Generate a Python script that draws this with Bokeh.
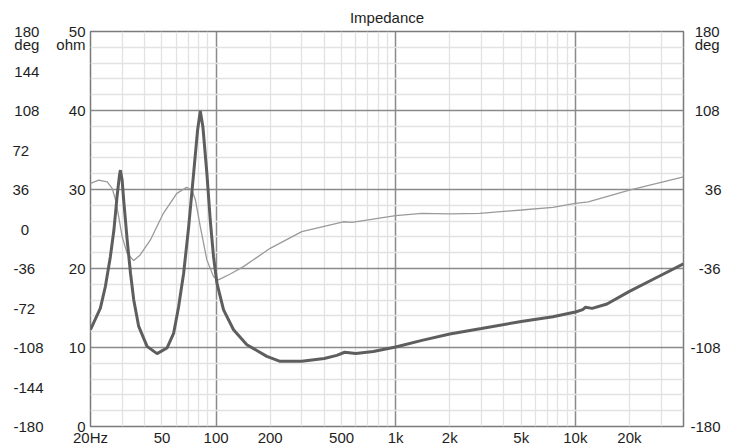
from bokeh.plotting import figure
from bokeh.models import Range1d, LinearAxis, FixedTicker
from bokeh.embed import file_html
from bokeh.resources import INLINE

# ---- data ----
imp_freq = [20.0, 22.7, 24.2, 25.8, 27.0, 28.1, 29.0, 29.35, 30.0, 30.6, 32.0, 33.4, 34.8,
            37.1, 41.3, 46.9, 53.3, 58.1, 61.9, 66.0, 70.4, 75.0, 78.9, 81.7, 84.5, 88.9,
            92.8, 96.8, 101.1, 110.1, 125.1, 148.4, 191.7, 227.2, 300, 400, 470, 520, 600,
            750, 1000, 1400, 2000, 3000, 5000, 7500, 10000, 11000, 11400, 12400, 15000,
            20000, 28000, 40000]
imp_ohm = [12.25, 14.98, 17.72, 21.5, 24.87, 29.08, 31.82, 32.45, 31.19, 28.66, 23.61, 19.4,
           16.04, 12.67, 10.14, 9.22, 9.93, 11.83, 15.19, 19.4, 25.29, 32.03, 37.5, 39.94,
           37.9, 32.03, 26.14, 21.5, 18.14, 14.77, 12.25, 10.35, 8.88, 8.25, 8.25, 8.6, 9.0,
           9.4, 9.25, 9.5, 10.06, 10.9, 11.7, 12.4, 13.3, 13.9, 14.5, 14.8, 15.1, 14.95, 15.5,
           17.1, 18.8, 20.6]

ph_freq = [20.0, 22.2, 24.8, 26.4, 27.6, 28.7, 30.0, 32.0, 34.8, 37.8, 43.1, 50.9, 60.5,
           68.5, 73.3, 76.8, 81.7, 88.9, 96.8, 103, 120, 142, 200, 300, 511, 570, 1000,
           1400, 2000, 2930, 5000, 7500, 10000, 11800, 20000, 40000]
ph_deg = [41.5, 44.5, 43.0, 37.0, 26.4, 11.2, -7.0, -22.1, -28.8, -23.6, -10.0, 14.3, 32.5,
          37.9, 35.5, 26.4, 2.1, -28.2, -43.4, -46.4, -41.0, -34.3, -17.6, -2.4, 6.6, 6.1,
          12.1, 14.3, 13.8, 14.3, 17.3, 19.7, 23.3, 24.8, 35.5, 47.5]

x_ticks = [20, 50, 100, 200, 500, 1000, 2000, 5000, 10000, 20000]
x_labels = ["20Hz", "50", "100", "200", "500", "1k", "2k", "5k", "10k", "20k"]
ohm_ticks = [0, 10, 20, 30, 40, 50]
deg_left_ticks = [-180, -144, -108, -72, -36, 0, 36, 72, 108, 144, 180]
deg_left_labels = ["-180", "-144", "-108", "-72", "-36", "0", "36", "72", "108", "144", "180"]
deg_right_ticks = [-180, -108, -36, 36, 108, 180]
deg_right_labels = ["-180", "-108", "-36", "36", "108", "180"]
x_major_grid = [100, 1000, 10000]
x_minor_grid = [30, 40, 50, 60, 70, 80, 90, 200, 300, 400, 500, 600, 700, 800, 900,
                2000, 3000, 4000, 5000, 6000, 7000, 8000, 9000, 20000, 30000]
y_minor_grid = [2, 4, 6, 8, 12, 14, 16, 18, 22, 24, 26, 28, 32, 34, 36, 38, 42, 44, 46, 48]
ohm_unit, deg_unit = "ohm", "deg"

FONT = "Liberation Sans"
TXT = "#1e1e1e"
FS = 15
NBSP_W, THIN_W = 0.278 * FS, 0.2 * FS


def text_w(s):
    w = 0.0
    for ch in s:
        if ch.isdigit() or ch in "deg":
            w += 0.556
        elif ch == "-":
            w += 0.333
        else:
            w += 0.5
    return w * FS


def pad(s, target, leading):
    # pad with non-collapsing spaces so that right/left aligned axis labels look centred
    extra = target - text_w(s)
    best, best_err = "", abs(extra)
    for n in range(3):
        for t in range(3):
            e = abs(extra - (n * NBSP_W + t * THIN_W))
            if e < best_err:
                best, best_err = "\u00a0" * n + "\u2009" * t, e
    return best + s if leading else s + best


p = figure(width=734, height=448, x_axis_type="log",
           x_range=Range1d(20, 40000), y_range=Range1d(0, 50),
           output_backend="svg", toolbar_location=None,
           min_border_left=90, min_border_right=51, min_border_top=31, min_border_bottom=21)
p.extra_y_ranges = {"deg": Range1d(-180, 180)}

p.background_fill_color = "white"
p.border_fill_color = "white"
p.outline_line_color = "#7a7a7a"
p.outline_line_width = 1.5

p.title.text = "Impedance"
p.title.align = "center"
p.title.text_font = FONT
p.title.text_font_size = "15px"
p.title.text_font_style = "normal"
p.title.text_color = TXT
p.title.standoff = 12

# grids
p.xgrid.ticker = FixedTicker(ticks=x_major_grid, minor_ticks=x_minor_grid)
p.ygrid.ticker = FixedTicker(ticks=ohm_ticks, minor_ticks=y_minor_grid)
for g in (p.xgrid, p.ygrid):
    g.grid_line_color = "#8a8a8a"
    g.grid_line_width = 1.5
    g.minor_grid_line_color = "#e2e2e2"
    g.minor_grid_line_width = 1.3


def style_axis(ax, standoff):
    ax.axis_line_color = None
    ax.major_tick_line_color = None
    ax.minor_tick_line_color = None
    ax.major_tick_out = 0
    ax.major_tick_in = 0
    ax.minor_tick_out = 0
    ax.minor_tick_in = 0
    ax.major_label_text_font = FONT
    ax.major_label_text_font_size = "15px"
    ax.major_label_text_color = TXT
    ax.major_label_standoff = standoff


# unit captions sit one text line below the top tick label
unit_ohm = 50 - 13 / 7.92
unit_deg = 180 - 13 / 1.1

# x axis
xa = p.xaxis[0]
xa.ticker = FixedTicker(ticks=x_ticks)
xa.major_label_overrides = {t: l for t, l in zip(x_ticks, x_labels)}
style_axis(xa, 2)

# ohm axis (left, next to plot)
ya = p.yaxis[0]
ya.ticker = FixedTicker(ticks=ohm_ticks + [unit_ohm])
ya.major_label_overrides = {unit_ohm: ohm_unit}
style_axis(ya, 5)

# deg axis (left, outer) - labels centred
dl = LinearAxis(y_range_name="deg", ticker=FixedTicker(ticks=deg_left_ticks + [unit_deg]))
ovl = {t: pad(l, 30.0, False) for t, l in zip(deg_left_ticks, deg_left_labels)}
ovl[unit_deg] = pad(deg_unit, 30.0, False)
dl.major_label_overrides = ovl
style_axis(dl, 10)
p.add_layout(dl, "left")

# deg axis (right) - labels centred
dr = LinearAxis(y_range_name="deg", ticker=FixedTicker(ticks=deg_right_ticks + [unit_deg]))
ovr = {t: pad(l, 30.0, True) for t, l in zip(deg_right_ticks, deg_right_labels)}
ovr[unit_deg] = pad(deg_unit, 30.0, True)
dr.major_label_overrides = ovr
style_axis(dr, 7)
p.add_layout(dr, "right")

# curves
p.line(ph_freq, ph_deg, y_range_name="deg", line_color="#9a9a9a", line_width=1.3)
p.line(imp_freq, imp_ohm, line_color="#5e5e5e", line_width=3)

open("out.html", "w").write(file_html(p, INLINE))
